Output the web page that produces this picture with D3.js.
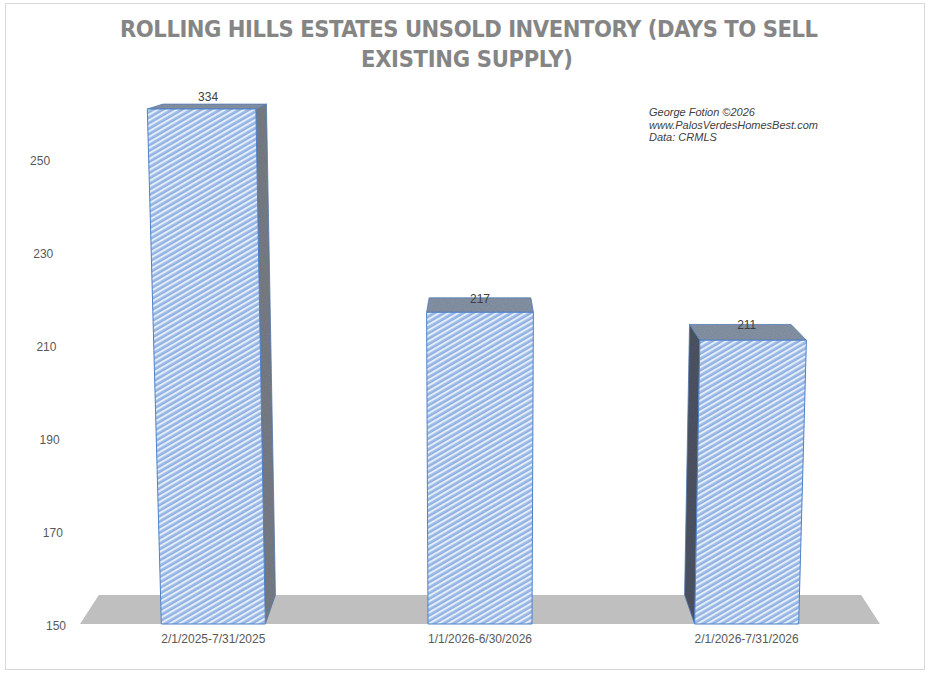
<!DOCTYPE html>
<html>
<head>
<meta charset="utf-8">
<script src="https://cdn.jsdelivr.net/npm/d3@7"></script>
<style>
  body { margin: 0; background: #fff; }
  svg { display: block; }
</style>
</head>
<body>
<div id="chart"></div>
<script>
// chart data
var categories = [ "2/1/2025-7/31/2025", "1/1/2026-6/30/2026", "2/1/2026-7/31/2026" ];
var daysToSell = [ 334, 217, 211 ];
var yTicks = [ 150, 170, 190, 210, 230, 250 ];
var titleLines = [ "ROLLING HILLS ESTATES UNSOLD INVENTORY (DAYS TO SELL", "EXISTING SUPPLY)" ];
var creditLines = [ "George Fotion ©2026", "www.PalosVerdesHomesBest.com", "Data: CRMLS" ];

var W = 930, H = 673;
var yMin = 150, yMax = 260.7;   // axis is cut above, tallest bar is clipped

// plot front plane
var floorY = 624, topY = 109;
var left = 80, right = 880;
var cx = (left + right) / 2;

// perspective settings
var vert = 0.0000855;           // vertical edges lean outwards going up
var vp = [ 480, 5 ];            // vanishing point of depth
var depth = 0.953;              // back plane scale towards vp

var x = d3.scaleBand()
          .domain(categories)
          .range([left, right])
          .paddingInner(0.61)
          .paddingOuter(0.305);

var y = d3.scaleLinear()
          .domain([yMin, yMax])
          .range([floorY, topY]);

function front( xb, yy ){
  return [ cx + (xb - cx) * (1 + vert * (floorY - yy)), yy ];
}

function back( p ){
  return [ vp[0] + (p[0] - vp[0]) * depth, vp[1] + (p[1] - vp[1]) * depth ];
}

function pts( list ){
  return list.map( p => p[0].toFixed(2) + "," + p[1].toFixed(2) ).join(" ");
}

var svg = d3.select("#chart").append("svg")
            .attr("width", W)
            .attr("height", H);

// stripe pattern of the bar fronts
var defs = svg.append("defs");
var pat = defs.append("pattern")
              .attr("id", "stripes")
              .attr("patternUnits", "userSpaceOnUse")
              .attr("width", 10)
              .attr("height", 4.8)
              .attr("patternTransform", "rotate(-30)");
pat.append("rect").attr("width", 10).attr("height", 4.8).attr("fill", "#e4edf9");
pat.append("rect").attr("y", 1.9).attr("width", 10).attr("height", 1.9).attr("fill", "#a6c2ea");
pat.append("rect").attr("y", 3.6).attr("width", 10).attr("height", 0.9).attr("fill", "#6794d8");

// light noise for the shaded faces
var noise = defs.append("filter").attr("id", "grain");
noise.append("feTurbulence")
     .attr("type", "fractalNoise")
     .attr("baseFrequency", 0.9)
     .attr("numOctaves", 1)
     .attr("result", "n");
noise.append("feColorMatrix")
     .attr("in", "n")
     .attr("type", "matrix")
     .attr("values", "0 0 0 0 0  0 0 0 0 0  0 0 0 0 0  0 0 0 0.25 0")
     .attr("result", "na");
noise.append("feComposite").attr("in", "na").attr("in2", "SourceGraphic").attr("operator", "in").attr("result", "nc");
var merge = noise.append("feMerge");
merge.append("feMergeNode").attr("in", "SourceGraphic");
merge.append("feMergeNode").attr("in", "nc");

// chart border
svg.append("rect")
   .attr("x", 5.5).attr("y", 3.5)
   .attr("width", 919).attr("height", 666)
   .attr("fill", "none")
   .attr("stroke", "#d9d9d9");

// title
svg.selectAll(".title")
   .data(titleLines)
   .enter().append("text")
   .attr("class", "title")
   .attr("x", (d, i) => i ? 361 : 120)
   .attr("y", (d, i) => 37 + i * 30)
   .attr("textLength", (d, i) => i ? 212 : 698)
   .attr("lengthAdjust", "spacing")
   .attr("font-family", "'Liberation Sans Narrow', 'DejaVu Sans Condensed', sans-serif")
   .attr("font-weight", "bold")
   .attr("font-size", 23.5)
   .attr("fill", "#858585")
   .text(d => d);

// credit block
svg.selectAll(".credit")
   .data(creditLines)
   .enter().append("text")
   .attr("class", "credit")
   .attr("x", 649)
   .attr("y", (d, i) => 116 + i * 12.5)
   .attr("font-family", "'Liberation Sans', Arial, sans-serif")
   .attr("font-style", "italic")
   .attr("font-size", 11)
   .attr("fill", "#404040")
   .text(d => d);

// floor
var fl = front(left, floorY), fr = front(right, floorY);
svg.append("polygon")
   .attr("points", pts([ fl, fr, back(fr), back(fl) ]))
   .attr("fill", "#bfbfbf");

// y tick labels, following the leaning left wall
svg.selectAll(".ytick")
   .data(yTicks)
   .enter().append("text")
   .attr("class", "ytick")
   .attr("x", d => front(left, y(d))[0] - 14)
   .attr("y", d => y(d) + 2)
   .attr("dy", "0.35em")
   .attr("text-anchor", "end")
   .attr("font-family", "'Liberation Sans', Arial, sans-serif")
   .attr("font-size", 12)
   .attr("fill", "#595959")
   .text(d => d);

// category labels
svg.selectAll(".xtick")
   .data(categories)
   .enter().append("text")
   .attr("class", "xtick")
   .attr("x", d => x(d) + x.bandwidth() / 2)
   .attr("y", 643)
   .attr("text-anchor", "middle")
   .attr("font-family", "'Liberation Sans', Arial, sans-serif")
   .attr("font-size", 12)
   .attr("fill", "#595959")
   .text(d => d);

// bars
var bars = svg.selectAll(".bar")
              .data(categories.map( (c, i) => ({ cat: c, value: daysToSell[i] }) ))
              .enter().append("g")
              .attr("class", "bar");

bars.each(function( d ){
  var g = d3.select(this);
  var x0 = x(d.cat), x1 = x0 + x.bandwidth();
  var yt = y(Math.min(d.value, yMax));

  var bl = front(x0, floorY), br = front(x1, floorY);
  var tl = front(x0, yt), tr = front(x1, yt);
  var bbl = back(bl), bbr = back(br), btl = back(tl), btr = back(tr);

  // side faces (only the one facing the centre line shows)
  if (bbr[0] > br[0]) {
    g.append("polygon")
     .attr("points", pts([ br, tr, btr, bbr ]))
     .attr("fill", "#7a8089")
     .attr("filter", "url(#grain)")
     .attr("stroke", "#5a7fb8").attr("stroke-width", 0.8);
  }
  if (bbl[0] < bl[0]) {
    g.append("polygon")
     .attr("points", pts([ bl, tl, btl, bbl ]))
     .attr("fill", "#4f5766")
     .attr("filter", "url(#grain)")
     .attr("stroke", "#5a7fb8").attr("stroke-width", 0.8);
  }

  // top face
  g.append("polygon")
   .attr("points", pts([ tl, tr, btr, btl ]))
   .attr("fill", "#8896a9")
   .attr("filter", "url(#grain)")
   .attr("stroke", "#5f86c4").attr("stroke-width", 0.8);

  // front face
  g.append("polygon")
   .attr("points", pts([ bl, br, tr, tl ]))
   .attr("fill", "url(#stripes)")
   .attr("stroke", "#4f81c9").attr("stroke-width", 1);

  // data label
  var mx = (tl[0] + tr[0] + btl[0] + btr[0]) / 4;
  var ly = d.value > yMax ? btl[1] - 3 : btl[1] + 5;
  g.append("text")
   .attr("x", mx)
   .attr("y", ly)
   .attr("text-anchor", "middle")
   .attr("font-family", "'Liberation Sans', Arial, sans-serif")
   .attr("font-size", 12)
   .attr("fill", "#404040")
   .text(d.value);
});
</script>
</body>
</html>
